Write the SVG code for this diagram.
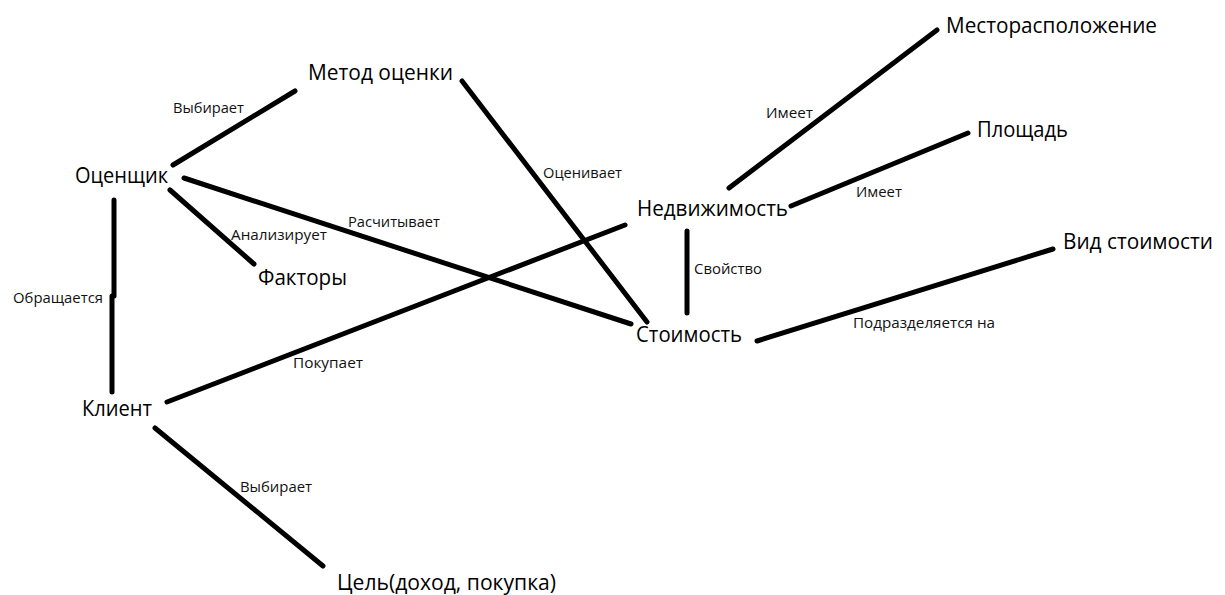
<svg xmlns="http://www.w3.org/2000/svg" width="1225" height="595" viewBox="0 0 1225 595">
<style>
.bg{fill:#ffffff}
.n{font-family:"Open Sans","Noto Sans","Liberation Sans",sans-serif;font-size:21.5px;fill:#000}
.l{font-family:"Open Sans","Noto Sans","Liberation Sans",sans-serif;font-size:14.5px;fill:#111}
.c line{stroke:#000;stroke-width:5;stroke-linecap:round}
</style>
<rect class="bg" x="0" y="0" width="1225" height="595"/>
<g id="connectors" class="c">
<line x1="173" y1="165" x2="295" y2="91"/>
<line x1="184" y1="178" x2="631" y2="324"/>
<line x1="170" y1="190" x2="254" y2="264"/>
<line x1="114" y1="200" x2="114" y2="296"/>
<line x1="112" y1="296" x2="112" y2="392"/>
<line x1="167" y1="402" x2="625" y2="225"/>
<line x1="155" y1="428" x2="323" y2="566"/>
<line x1="462" y1="81" x2="647" y2="322"/>
<line x1="729" y1="188" x2="937" y2="30"/>
<line x1="791" y1="206" x2="968" y2="133"/>
<line x1="687" y1="231" x2="687" y2="313"/>
<line x1="757" y1="341" x2="1053" y2="249"/>
</g>
<g id="labels">
<text class="l" x="173" y="113" textLength="71" lengthAdjust="spacingAndGlyphs">Выбирает</text>
<text class="l" x="231" y="240" textLength="96" lengthAdjust="spacingAndGlyphs">Анализирует</text>
<text class="l" x="348" y="227" textLength="92" lengthAdjust="spacingAndGlyphs">Расчитывает</text>
<text class="l" x="543" y="178" textLength="79" lengthAdjust="spacingAndGlyphs">Оценивает</text>
<text class="l" x="13" y="303" textLength="90" lengthAdjust="spacingAndGlyphs">Обращается</text>
<text class="l" x="293" y="368" textLength="70" lengthAdjust="spacingAndGlyphs">Покупает</text>
<text class="l" x="240" y="492" textLength="72" lengthAdjust="spacingAndGlyphs">Выбирает</text>
<text class="l" x="766" y="118" textLength="47" lengthAdjust="spacingAndGlyphs">Имеет</text>
<text class="l" x="856" y="197" textLength="46" lengthAdjust="spacingAndGlyphs">Имеет</text>
<text class="l" x="694" y="274" textLength="68" lengthAdjust="spacingAndGlyphs">Свойство</text>
<text class="l" x="853" y="328" textLength="142" lengthAdjust="spacingAndGlyphs">Подразделяется на</text>
</g>
<g id="node-metod"><text class="n" x="308" y="80" textLength="145" lengthAdjust="spacingAndGlyphs">Метод оценки</text></g>
<g id="node-ocenshik"><text class="n" x="75" y="183" textLength="93" lengthAdjust="spacingAndGlyphs">Оценщик</text></g>
<g id="node-faktory"><text class="n" x="258" y="285" textLength="89" lengthAdjust="spacingAndGlyphs">Факторы</text></g>
<g id="node-klient"><text class="n" x="82" y="416" textLength="70" lengthAdjust="spacingAndGlyphs">Клиент</text></g>
<g id="node-cel"><text class="n" x="337" y="590" textLength="219" lengthAdjust="spacingAndGlyphs">Цель(доход, покупка)</text></g>
<g id="node-nedvizhimost"><text class="n" x="637" y="216" textLength="151" lengthAdjust="spacingAndGlyphs">Недвижимость</text></g>
<g id="node-stoimost"><text class="n" x="636" y="342" textLength="106" lengthAdjust="spacingAndGlyphs">Стоимость</text></g>
<g id="node-mesto"><text class="n" x="946" y="33" textLength="211" lengthAdjust="spacingAndGlyphs">Месторасположение</text></g>
<g id="node-ploshad"><text class="n" x="977" y="137" textLength="91" lengthAdjust="spacingAndGlyphs">Площадь</text></g>
<g id="node-vid"><text class="n" x="1063" y="249" textLength="150" lengthAdjust="spacingAndGlyphs">Вид стоимости</text></g>
</svg>
